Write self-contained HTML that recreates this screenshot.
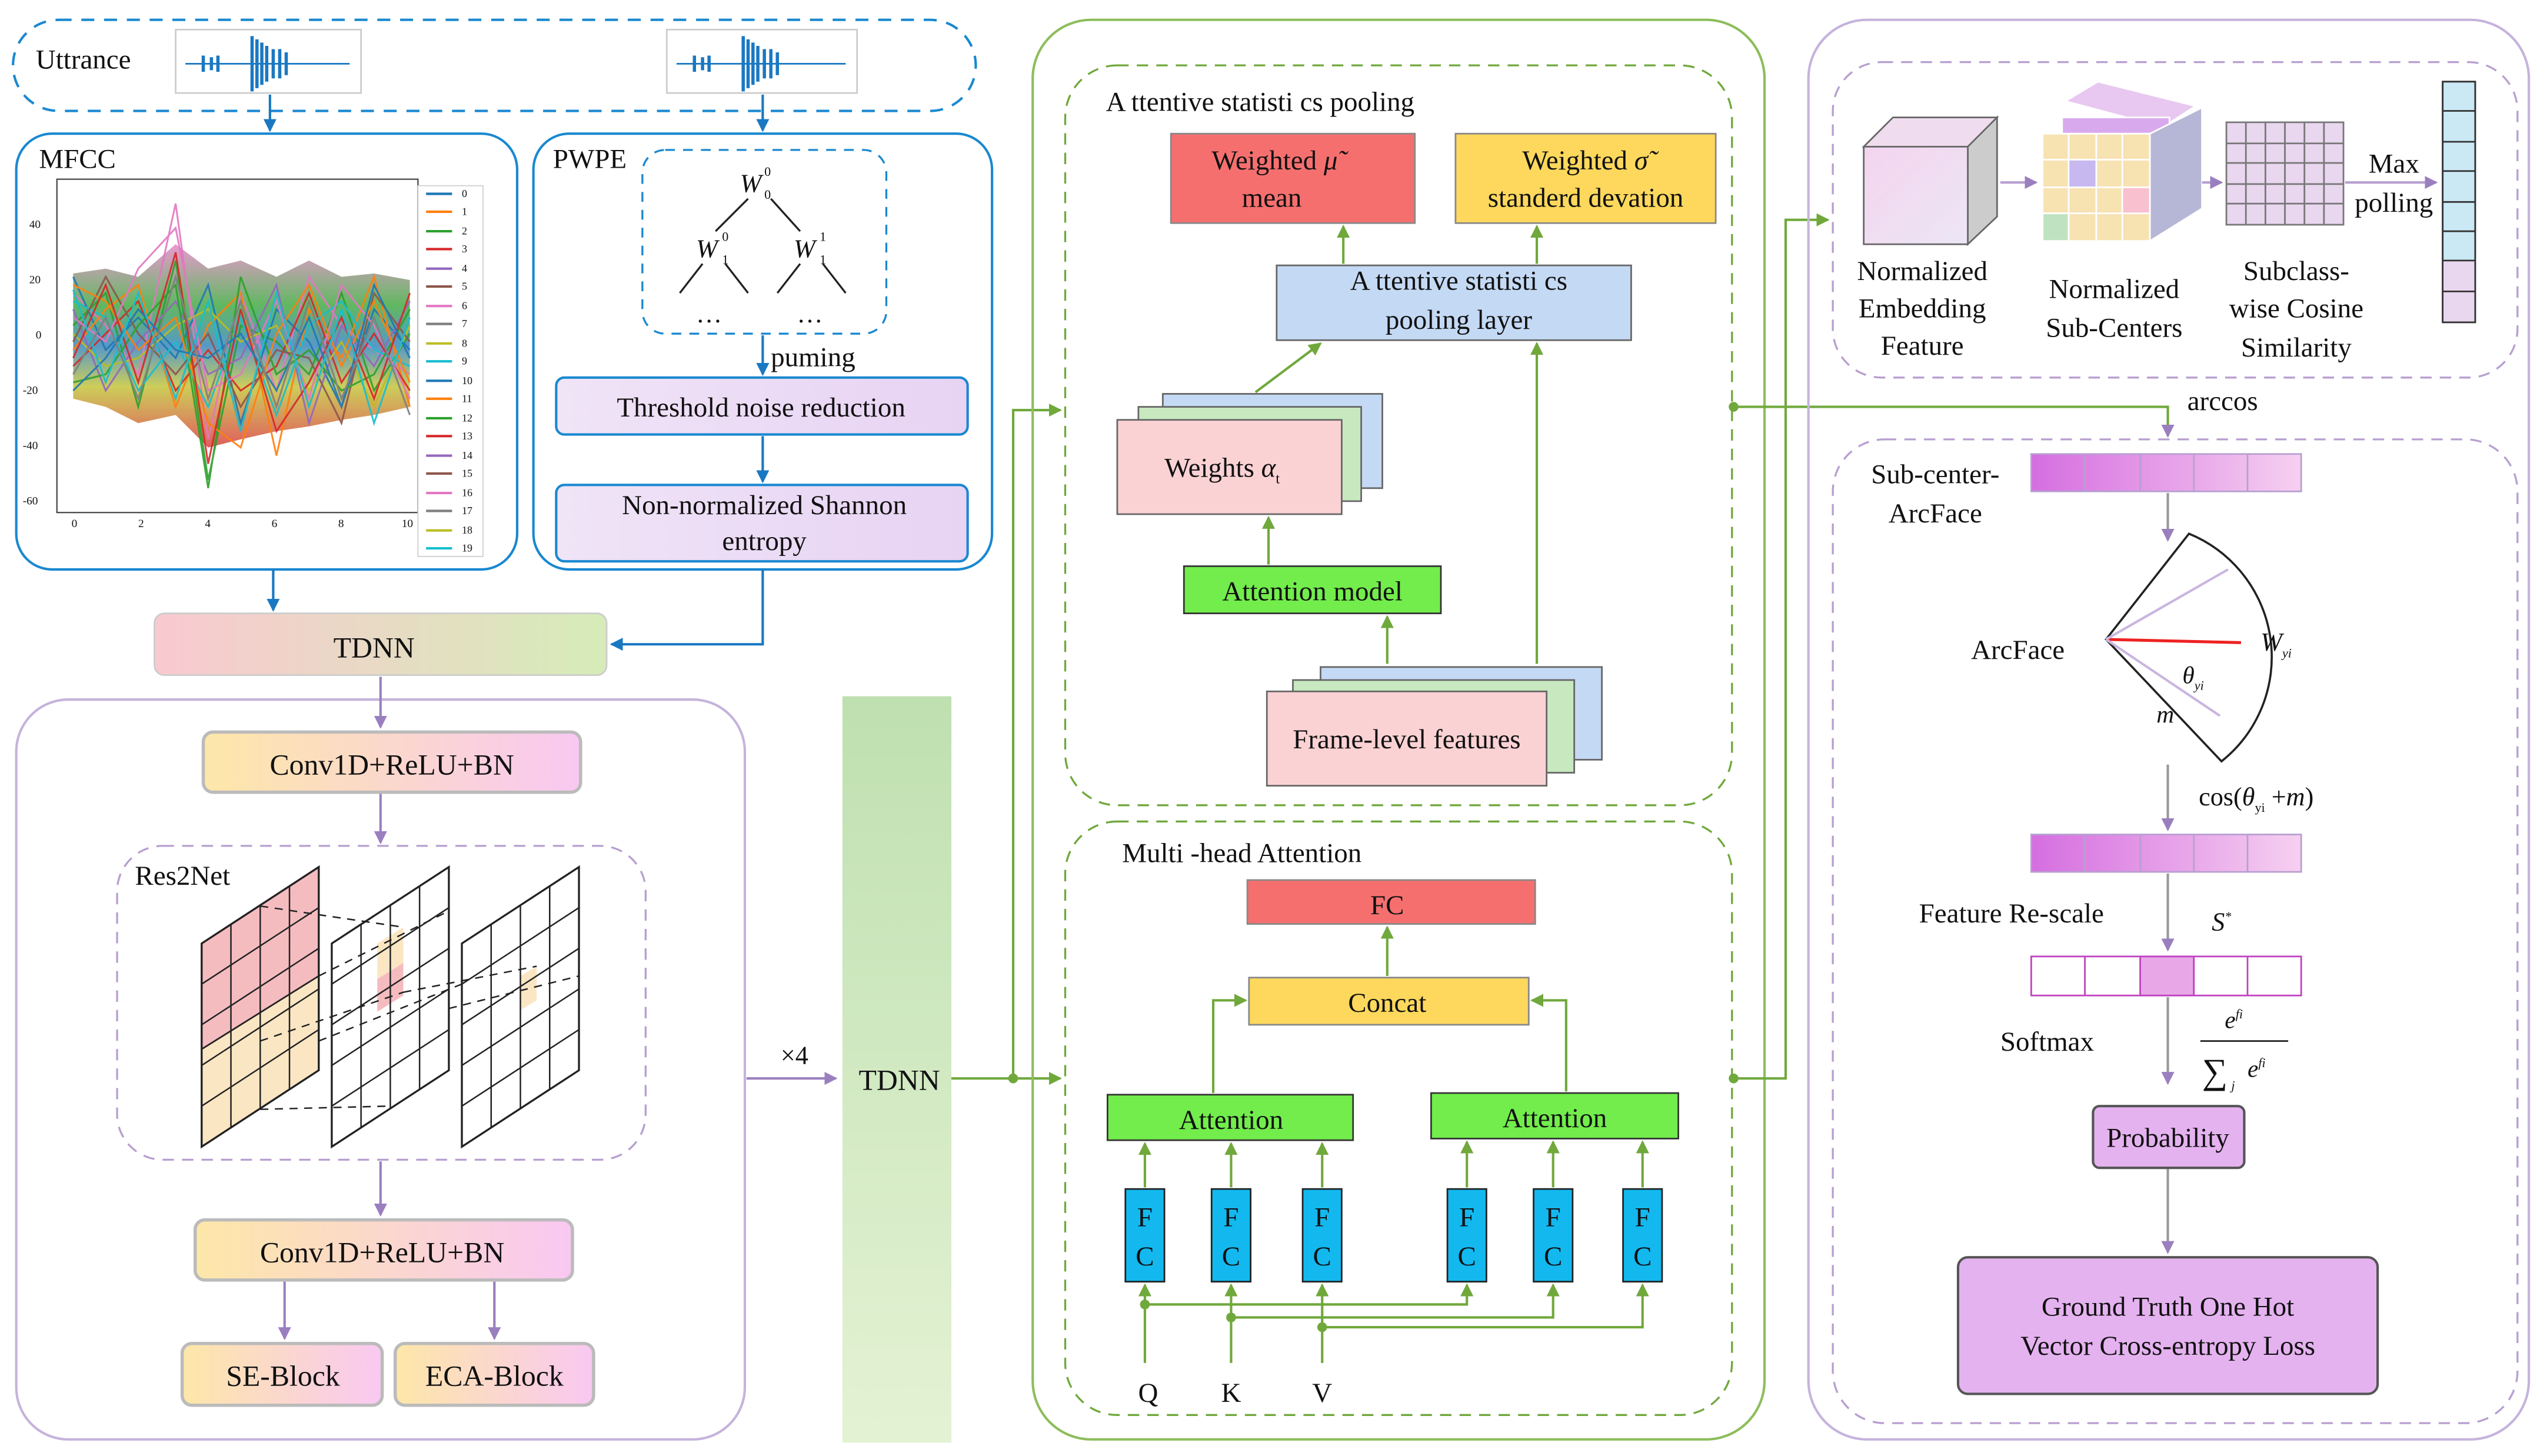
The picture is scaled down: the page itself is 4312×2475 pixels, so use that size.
<!DOCTYPE html>
<html><head><meta charset="utf-8"><style>
html,body{margin:0;padding:0;background:#fff}
svg{display:block}
text{font-family:"Liberation Serif",serif;fill:#111}
</style></head><body>
<svg width="4312" height="2475" viewBox="0 0 1560 895" xmlns="http://www.w3.org/2000/svg">
<defs>
<linearGradient id="gYP" x1="0" x2="1"><stop offset="0" stop-color="#fde7a8"/><stop offset="1" stop-color="#f9c8f2"/></linearGradient>
<linearGradient id="gTD" x1="0" x2="1"><stop offset="0" stop-color="#f9c9d0"/><stop offset="1" stop-color="#d6ecb8"/></linearGradient>
<linearGradient id="gLav" x1="0" x2="1"><stop offset="0" stop-color="#f0e4f7"/><stop offset="1" stop-color="#e7d3f3"/></linearGradient>
<linearGradient id="gBar" x1="0" x2="0" y1="0" y2="1"><stop offset="0" stop-color="#bfe0b0"/><stop offset="1" stop-color="#e4f2d4"/></linearGradient>
<linearGradient id="gArr" x1="0" x2="1"><stop offset="0" stop-color="#d56ee0"/><stop offset="1" stop-color="#f6d0f0"/></linearGradient>
<linearGradient id="gCube" x1="0" x2="1" y1="0" y2="1"><stop offset="0" stop-color="#f4d4ee"/><stop offset="1" stop-color="#ece6f6"/></linearGradient>
<linearGradient id="gBand" x1="0" x2="0" y1="0" y2="1"><stop offset="0" stop-color="#e377c2"/><stop offset="0.3" stop-color="#2ca02c"/><stop offset="0.5" stop-color="#1f77b4"/><stop offset="0.7" stop-color="#bcbd22"/><stop offset="1" stop-color="#d62728"/></linearGradient>
<marker id="ab" markerWidth="8" markerHeight="8" refX="7" refY="4" orient="auto" markerUnits="userSpaceOnUse"><path d="M0,0 L8,4 L0,8z" fill="#1a78c2"/></marker>
<marker id="ag" markerWidth="8" markerHeight="8" refX="7" refY="4" orient="auto" markerUnits="userSpaceOnUse"><path d="M0,0 L8,4 L0,8z" fill="#70a83c"/></marker>
<marker id="ap" markerWidth="8" markerHeight="8" refX="7" refY="4" orient="auto" markerUnits="userSpaceOnUse"><path d="M0,0 L8,4 L0,8z" fill="#9a7fbf"/></marker>
</defs>

<!-- Utterance -->
<rect x="8" y="12" width="592" height="56" rx="28" fill="none" stroke="#1a88d0" stroke-width="1.5" stroke-dasharray="8,6"/>
<text x="22" y="42" font-size="17">Uttrance</text>
<rect x="108" y="18" width="114" height="39" fill="#fff" stroke="#ccc"/>
<rect x="410" y="18" width="117" height="39" fill="#fff" stroke="#ccc"/>
<g stroke="#1a78c2" stroke-width="2">
<line x1="114" y1="39" x2="215" y2="39" stroke-width="1"/><line x1="416" y1="39" x2="520" y2="39" stroke-width="1"/>
<path d="M125,34v10M130,35v8M134,34v10M155,22v34M158,24v30M161,26v26M164,28v22M168,30v18M172,30v18M176,32v14"/>
<path d="M427,34v10M432,35v8M436,34v10M457,22v34M460,24v30M463,26v26M466,28v22M470,30v18M474,30v18M478,32v14"/>
</g>
<line x1="166" y1="58" x2="166" y2="80" stroke="#1a78c2" stroke-width="1.5" marker-end="url(#ab)"/>
<line x1="469" y1="58" x2="469" y2="80" stroke="#1a78c2" stroke-width="1.5" marker-end="url(#ab)"/>

<!-- MFCC -->
<rect x="10" y="82" width="308" height="268" rx="22" fill="#fff" stroke="#1a88d0" stroke-width="1.5"/>
<text x="24" y="103" font-size="17">MFCC</text>
<rect x="35" y="110" width="222" height="205" fill="#fff" stroke="#444" stroke-width="0.8"/>
<g font-size="7" font-family="Liberation Sans">
<text x="18" y="140">40</text><text x="18" y="174">20</text><text x="22" y="208">0</text><text x="14" y="242">-20</text><text x="14" y="276">-40</text><text x="14" y="310">-60</text>
<text x="44" y="324">0</text><text x="85" y="324">2</text><text x="126" y="324">4</text><text x="167" y="324">6</text><text x="208" y="324">8</text><text x="247" y="324">10</text>
</g>
<path d="M45,168 L65,165 L85,170 L108,150 L128,165 L148,160 L170,170 L190,160 L210,170 L230,168 L252,172 L252,250 L230,255 L210,258 L190,262 L170,265 L148,270 L128,275 L108,255 L85,260 L65,250 L45,245z" fill="url(#gBand)" opacity="0.75"/>
<g fill="none" stroke-width="1.1" opacity="0.9">
<path d="M45,180 L65,200 L85,230 L108,125 L128,270 L148,180 L170,240 L190,170 L210,200 L230,215 L252,230" stroke="#e377c2"/>
<path d="M45,200 L65,180 L85,250 L108,160 L128,295 L148,200 L170,210 L190,230 L210,180 L230,240 L252,205" stroke="#2ca02c"/>
<path d="M45,170 L65,215 L85,195 L108,220 L128,175 L148,260 L170,190 L190,210 L210,250 L230,190 L252,215" stroke="#1f77b4"/>
<path d="M45,215 L65,190 L85,175 L108,250 L128,200 L148,180 L170,280 L190,190 L210,220 L230,170 L252,250" stroke="#ff7f0e"/>
<path d="M45,190 L65,240 L85,210 L108,185 L128,230 L148,220 L170,175 L190,260 L210,200 L230,225 L252,185" stroke="#9467bd"/>
<path d="M45,225 L65,205 L85,185 L108,240 L128,215 L148,240 L170,225 L190,180 L210,235 L230,205 L252,240" stroke="#d62728"/>
<path d="M45,205 L65,225 L85,220 L108,200 L128,190 L148,210 L170,200 L190,240 L210,210 L230,250 L252,200" stroke="#bcbd22"/>
<path d="M45,185 L65,195 L85,240 L108,210 L128,250 L148,195 L170,255 L190,200 L210,185 L230,215 L252,225" stroke="#17becf"/>
<path d="M45,210 L65,170 L85,205 L108,230 L128,205 L148,250 L170,215 L190,220 L210,260 L230,180 L252,210" stroke="#8c564b"/>
<path d="M45,195 L65,210 L85,165 L108,140 L128,240 L148,230 L170,185 L190,245 L210,175 L230,200 L252,245" stroke="#e377c2"/>
<path d="M45,235 L65,230 L85,200 L108,175 L128,300 L148,170 L170,230 L190,215 L210,240 L230,230 L252,190" stroke="#2ca02c"/>
<path d="M45,175 L65,185 L85,215 L108,195 L128,260 L148,275 L170,205 L190,175 L210,225 L230,185 L252,235" stroke="#ff7f0e"/>
<path d="M45,220 L65,175 L85,235 L108,155 L128,285 L148,190 L170,265 L190,235 L210,195 L230,245 L252,180" stroke="#d62728"/>
<path d="M45,240 L65,220 L85,190 L108,215 L128,220 L148,205 L170,240 L190,195 L210,250 L230,175 L252,220" stroke="#1f77b4"/>
<path d="M45,178 L65,235 L85,180 L108,245 L128,185 L148,265 L170,180 L190,250 L210,190 L230,260 L252,195" stroke="#17becf"/>
<path d="M45,230 L65,195 L85,245 L108,170 L128,245 L148,185 L170,250 L190,185 L210,245 L230,195 L252,255" stroke="#7f7f7f"/>
</g>
<rect x="257" y="114" width="40" height="228" fill="#fff" stroke="#ccc" stroke-width="0.6"/>
<g font-size="6.5" font-family="Liberation Sans">
<text x="284" y="121">0</text><text x="284" y="132">1</text><text x="284" y="144">2</text><text x="284" y="155">3</text><text x="284" y="167">4</text><text x="284" y="178">5</text><text x="284" y="190">6</text><text x="284" y="201">7</text><text x="284" y="213">8</text><text x="284" y="224">9</text><text x="284" y="236">10</text><text x="284" y="247">11</text><text x="284" y="259">12</text><text x="284" y="270">13</text><text x="284" y="282">14</text><text x="284" y="293">15</text><text x="284" y="305">16</text><text x="284" y="316">17</text><text x="284" y="328">18</text><text x="284" y="339">19</text>
</g>
<g stroke-width="1.5">
<line x1="262" x2="278" y1="119" y2="119" stroke="#1f77b4"/><line x1="262" x2="278" y1="130" y2="130" stroke="#ff7f0e"/><line x1="262" x2="278" y1="142" y2="142" stroke="#2ca02c"/><line x1="262" x2="278" y1="153" y2="153" stroke="#d62728"/><line x1="262" x2="278" y1="165" y2="165" stroke="#9467bd"/><line x1="262" x2="278" y1="176" y2="176" stroke="#8c564b"/><line x1="262" x2="278" y1="188" y2="188" stroke="#e377c2"/><line x1="262" x2="278" y1="199" y2="199" stroke="#7f7f7f"/><line x1="262" x2="278" y1="211" y2="211" stroke="#bcbd22"/><line x1="262" x2="278" y1="222" y2="222" stroke="#17becf"/><line x1="262" x2="278" y1="234" y2="234" stroke="#1f77b4"/><line x1="262" x2="278" y1="245" y2="245" stroke="#ff7f0e"/><line x1="262" x2="278" y1="257" y2="257" stroke="#2ca02c"/><line x1="262" x2="278" y1="268" y2="268" stroke="#d62728"/><line x1="262" x2="278" y1="280" y2="280" stroke="#9467bd"/><line x1="262" x2="278" y1="291" y2="291" stroke="#8c564b"/><line x1="262" x2="278" y1="303" y2="303" stroke="#e377c2"/><line x1="262" x2="278" y1="314" y2="314" stroke="#7f7f7f"/><line x1="262" x2="278" y1="326" y2="326" stroke="#bcbd22"/><line x1="262" x2="278" y1="337" y2="337" stroke="#17becf"/>
</g>

<!-- PWPE -->
<rect x="328" y="82" width="282" height="268" rx="22" fill="#fff" stroke="#1a88d0" stroke-width="1.5"/>
<text x="340" y="103" font-size="17">PWPE</text>
<rect x="395" y="92" width="150" height="113" rx="14" fill="none" stroke="#1a88d0" stroke-width="1.2" stroke-dasharray="6,5"/>
<text x="455" y="118" font-size="16" font-style="italic">W</text><text x="470" y="108" font-size="8">0</text><text x="470" y="122" font-size="8">0</text>
<text x="428" y="158" font-size="16" font-style="italic">W</text><text x="444" y="148" font-size="8">0</text><text x="444" y="162" font-size="8">1</text>
<text x="488" y="158" font-size="16" font-style="italic">W</text><text x="504" y="148" font-size="8">1</text><text x="504" y="162" font-size="8">1</text>
<g stroke="#222" stroke-width="1.2" fill="none">
<path d="M460,122 L440,142 M474,122 L492,142 M432,162 L418,180 M446,162 L460,180 M492,162 L478,180 M506,162 L520,180"/>
</g>
<text x="428" y="198" font-size="16">…</text><text x="490" y="198" font-size="16">…</text>
<line x1="469" y1="206" x2="469" y2="230" stroke="#1a78c2" stroke-width="1.5" marker-end="url(#ab)"/>
<text x="474" y="225" font-size="17">puming</text>
<rect x="342" y="232" width="253" height="35" rx="5" fill="url(#gLav)" stroke="#1a88d0" stroke-width="1.5"/>
<text x="468" y="256" font-size="17" text-anchor="middle">Threshold noise reduction</text>
<line x1="469" y1="268" x2="469" y2="296" stroke="#1a78c2" stroke-width="1.5" marker-end="url(#ab)"/>
<rect x="342" y="298" width="253" height="47" rx="5" fill="url(#gLav)" stroke="#1a88d0" stroke-width="1.5"/>
<text x="470" y="316" font-size="17" text-anchor="middle">Non-normalized Shannon</text>
<text x="470" y="338" font-size="17" text-anchor="middle">entropy</text>

<!-- TDNN top -->
<line x1="168" y1="350" x2="168" y2="375" stroke="#1a78c2" stroke-width="1.5" marker-end="url(#ab)"/>
<path d="M469,350 V396 H376" fill="none" stroke="#1a78c2" stroke-width="1.5" marker-end="url(#ab)"/>
<rect x="95" y="377" width="278" height="38" rx="6" fill="url(#gTD)" stroke="#ccc"/>
<text x="230" y="404" font-size="18" text-anchor="middle">TDNN</text>

<!-- Left lower -->
<rect x="10" y="430" width="448" height="455" rx="32" fill="none" stroke="#c5b3dc" stroke-width="1.5"/>
<line x1="234" y1="416" x2="234" y2="447" stroke="#9a7fbf" stroke-width="1.5" marker-end="url(#ap)"/>
<rect x="125" y="450" width="232" height="37" rx="6" fill="url(#gYP)" stroke="#bbb" stroke-width="2"/>
<text x="241" y="476" font-size="18" text-anchor="middle">Conv1D+ReLU+BN</text>
<line x1="234" y1="488" x2="234" y2="518" stroke="#9a7fbf" stroke-width="1.5" marker-end="url(#ap)"/>
<rect x="72" y="520" width="325" height="193" rx="28" fill="none" stroke="#b79fd0" stroke-width="1.2" stroke-dasharray="7,5"/>
<text x="83" y="544" font-size="17">Res2Net</text>
<g stroke="#222" stroke-width="1">
<path d="M124,580 L196,533 L196,658 L124,705z" fill="#fbe6c4"/>
<path d="M124,580 L196,533 L196,600 L124,645z" fill="#f5bcc0"/>
<path d="M204,580 L276,533 L276,658 L204,705z" fill="#fff"/>
<path d="M284,580 L356,533 L356,658 L284,705z" fill="#fff"/>
<path d="M232,580 L248,570 L248,610 L232,620z" fill="#fbe6c4" stroke="none"/>
<path d="M232,602 L248,592 L248,612 L232,622z" fill="#f5bcc0" stroke="none"/>
<path d="M320,600 L330,594 L330,615 L320,621z" fill="#fbe6c4" stroke="none"/>
</g>
<g stroke="#222" stroke-width="0.9" fill="none">
<path d="M142,568V693 M160,557V682 M178,545V670 M124,605L196,558 M124,630L196,583 M124,655L196,608 M124,680L196,633"/>
<path d="M222,568V693 M240,557V682 M258,545V670 M204,605L276,558 M204,630L276,583 M204,655L276,608 M204,680L276,633"/>
<path d="M302,568V693 M320,557V682 M338,545V670 M284,605L356,558 M284,630L356,583 M284,655L356,608 M284,680L356,633"/>
<path d="M124,580 L196,533 L196,658 L124,705z M204,580 L276,533 L276,658 L204,705z M284,580 L356,533 L356,658 L284,705z" stroke-width="1.2"/>
</g>
<g stroke="#222" stroke-width="0.9" stroke-dasharray="5,4" fill="none">
<path d="M160,557 L248,570 M196,600 L276,560 M160,640 L248,610 M196,640 L284,605 M248,610 L330,594 M276,620 L356,600 M160,682 L240,680"/>
</g>
<line x1="234" y1="714" x2="234" y2="747" stroke="#9a7fbf" stroke-width="1.5" marker-end="url(#ap)"/>
<rect x="120" y="750" width="232" height="37" rx="6" fill="url(#gYP)" stroke="#bbb" stroke-width="2"/>
<text x="235" y="776" font-size="18" text-anchor="middle">Conv1D+ReLU+BN</text>
<line x1="175" y1="788" x2="175" y2="823" stroke="#9a7fbf" stroke-width="1.5" marker-end="url(#ap)"/>
<line x1="304" y1="788" x2="304" y2="823" stroke="#9a7fbf" stroke-width="1.5" marker-end="url(#ap)"/>
<rect x="112" y="826" width="123" height="38" rx="6" fill="url(#gYP)" stroke="#bbb" stroke-width="2"/>
<text x="174" y="852" font-size="18" text-anchor="middle">SE-Block</text>
<rect x="243" y="826" width="122" height="38" rx="6" fill="url(#gYP)" stroke="#bbb" stroke-width="2"/>
<text x="304" y="852" font-size="18" text-anchor="middle">ECA-Block</text>

<!-- x4 and vertical TDNN -->
<line x1="459" y1="663" x2="514" y2="663" stroke="#9a7fbf" stroke-width="1.5" marker-end="url(#ap)"/>
<text x="480" y="654" font-size="16">×4</text>
<rect x="518" y="428" width="67" height="459" fill="url(#gBar)"/>
<text x="553" y="670" font-size="18" text-anchor="middle">TDNN</text>

<g stroke="#70a83c" stroke-width="1.5" fill="none">
<line x1="585" y1="663" x2="623" y2="663"/>
<path d="M623,663 V252 H652" marker-end="url(#ag)"/>
<line x1="623" y1="663" x2="652" y2="663" marker-end="url(#ag)"/>
</g>
<circle cx="623" cy="663" r="3" fill="#70a83c"/>

<!-- Middle big -->
<rect x="635" y="12" width="450" height="873" rx="36" fill="none" stroke="#8dbd5c" stroke-width="1.5"/>
<rect x="655" y="40" width="410" height="455" rx="32" fill="none" stroke="#70a83c" stroke-width="1.2" stroke-dasharray="7,5"/>
<text x="680" y="68" font-size="17">A ttentive statisti cs pooling</text>
<rect x="720" y="82" width="150" height="55" fill="#f66f6f" stroke="#888"/>
<text x="745" y="104" font-size="17">Weighted <tspan font-style="italic">μ̃</tspan></text>
<text x="782" y="127" font-size="17" text-anchor="middle">mean</text>
<rect x="895" y="82" width="160" height="55" fill="#fdd85c" stroke="#888"/>
<text x="936" y="104" font-size="17">Weighted <tspan font-style="italic">σ̃</tspan></text>
<text x="975" y="127" font-size="17" text-anchor="middle">standerd devation</text>
<rect x="785" y="163" width="218" height="46" fill="#c4d9f4" stroke="#666"/>
<text x="897" y="178" font-size="17" text-anchor="middle">A ttentive statisti cs</text>
<text x="897" y="202" font-size="17" text-anchor="middle">pooling layer</text>
<g stroke="#70a83c" stroke-width="1.5" fill="none">
<line x1="826" y1="162" x2="826" y2="139" marker-end="url(#ag)"/>
<line x1="945" y1="162" x2="945" y2="139" marker-end="url(#ag)"/>
<line x1="772" y1="241" x2="812" y2="211" marker-end="url(#ag)"/>
<line x1="945" y1="408" x2="945" y2="211" marker-end="url(#ag)"/>
<line x1="780" y1="347" x2="780" y2="318" marker-end="url(#ag)"/>
<line x1="853" y1="408" x2="853" y2="379" marker-end="url(#ag)"/>
</g>
<rect x="715" y="242" width="135" height="58" fill="#c4d9f4" stroke="#666"/>
<rect x="700" y="250" width="137" height="58" fill="#c8e8c0" stroke="#666"/>
<rect x="687" y="258" width="138" height="58" fill="#fbd2d4" stroke="#666"/>
<text x="716" y="293" font-size="17">Weights <tspan font-style="italic">α</tspan><tspan font-size="9" dy="4">t</tspan></text>
<rect x="728" y="348" width="158" height="29" fill="#72ed4c" stroke="#333"/>
<text x="807" y="369" font-size="17" text-anchor="middle">Attention model</text>
<rect x="812" y="410" width="173" height="57" fill="#c4d9f4" stroke="#666"/>
<rect x="795" y="418" width="173" height="57" fill="#c8e8c0" stroke="#666"/>
<rect x="779" y="425" width="172" height="58" fill="#fbd2d4" stroke="#666"/>
<text x="865" y="460" font-size="17" text-anchor="middle">Frame-level features</text>

<!-- multi-head -->
<rect x="655" y="505" width="410" height="365" rx="32" fill="none" stroke="#70a83c" stroke-width="1.2" stroke-dasharray="7,5"/>
<text x="690" y="530" font-size="17">Multi -head Attention</text>
<rect x="767" y="541" width="177" height="27" fill="#f66f6f" stroke="#888"/>
<text x="853" y="562" font-size="17" text-anchor="middle">FC</text>
<rect x="768" y="601" width="172" height="29" fill="#fdd85c" stroke="#888"/>
<text x="853" y="622" font-size="17" text-anchor="middle">Concat</text>
<g stroke="#70a83c" stroke-width="1.5" fill="none">
<line x1="853" y1="600" x2="853" y2="570" marker-end="url(#ag)"/>
<path d="M746,672 V615 H766" marker-end="url(#ag)"/>
<path d="M963,671 V615 H942" marker-end="url(#ag)"/>
</g>
<rect x="681" y="673" width="151" height="28" fill="#72ed4c" stroke="#333"/>
<text x="757" y="694" font-size="17" text-anchor="middle">Attention</text>
<rect x="880" y="672" width="152" height="28" fill="#72ed4c" stroke="#333"/>
<text x="956" y="693" font-size="17" text-anchor="middle">Attention</text>
<g stroke="#70a83c" stroke-width="1.5" fill="none">
<line x1="704" y1="730" x2="704" y2="703" marker-end="url(#ag)"/>
<line x1="757" y1="730" x2="757" y2="703" marker-end="url(#ag)"/>
<line x1="813" y1="730" x2="813" y2="703" marker-end="url(#ag)"/>
<line x1="902" y1="730" x2="902" y2="702" marker-end="url(#ag)"/>
<line x1="955" y1="730" x2="955" y2="702" marker-end="url(#ag)"/>
<line x1="1010" y1="730" x2="1010" y2="702" marker-end="url(#ag)"/>
<line x1="704" y1="838" x2="704" y2="790" marker-end="url(#ag)"/>
<line x1="757" y1="838" x2="757" y2="790" marker-end="url(#ag)"/>
<line x1="813" y1="838" x2="813" y2="790" marker-end="url(#ag)"/>
<path d="M704,802 H902 V790" marker-end="url(#ag)"/>
<path d="M757,810 H955 V790" marker-end="url(#ag)"/>
<path d="M813,816 H1010 V790" marker-end="url(#ag)"/>
</g>
<g fill="#70a83c"><circle cx="704" cy="802" r="3"/><circle cx="757" cy="810" r="3"/><circle cx="813" cy="816" r="3"/></g>
<g fill="#13b8ef" stroke="#222" stroke-width="1">
<rect x="692" y="731" width="24" height="57"/><rect x="745" y="731" width="24" height="57"/><rect x="801" y="731" width="24" height="57"/>
<rect x="890" y="731" width="24" height="57"/><rect x="943" y="731" width="24" height="57"/><rect x="998" y="731" width="24" height="57"/>
</g>
<g font-size="17" text-anchor="middle">
<text x="704" y="754">F</text><text x="704" y="778">C</text><text x="757" y="754">F</text><text x="757" y="778">C</text><text x="813" y="754">F</text><text x="813" y="778">C</text>
<text x="902" y="754">F</text><text x="902" y="778">C</text><text x="955" y="754">F</text><text x="955" y="778">C</text><text x="1010" y="754">F</text><text x="1010" y="778">C</text>
<text x="706" y="862">Q</text><text x="757" y="862">K</text><text x="813" y="862">V</text>
</g>

<g stroke="#70a83c" stroke-width="1.5" fill="none">
<path d="M1066,663 H1098 V135 H1124" marker-end="url(#ag)"/>
<path d="M1066,250 H1333 V268" marker-end="url(#ap)"/>
</g>
<circle cx="1066" cy="663" r="3" fill="#70a83c"/><circle cx="1066" cy="250" r="3" fill="#70a83c"/>

<!-- Right big -->
<rect x="1112" y="12" width="443" height="873" rx="36" fill="none" stroke="#c5b3dc" stroke-width="1.5"/>
<rect x="1127" y="38" width="421" height="194" rx="30" fill="none" stroke="#b79fd0" stroke-width="1.2" stroke-dasharray="7,5"/>
<path d="M1146,90 L1164,72 L1228,72 L1210,90z" fill="#f0dcef" stroke="#666"/>
<path d="M1210,90 L1228,72 L1228,133 L1210,150z" fill="#ccc" stroke="#666"/>
<rect x="1146" y="90" width="64" height="60" fill="url(#gCube)" stroke="#666"/>
<text x="1182" y="172" font-size="17" text-anchor="middle">Normalized</text>
<text x="1182" y="195" font-size="17" text-anchor="middle">Embedding</text>
<text x="1182" y="218" font-size="17" text-anchor="middle">Feature</text>
<line x1="1230" y1="112" x2="1252" y2="112" stroke="#b79fd0" stroke-width="1.5" marker-end="url(#ap)"/>
<g stroke="#fff" stroke-width="1">
<path d="M1270,62 L1290,50 L1350,65 L1330,78z" fill="#e8c8f0"/>
<rect x="1268" y="72" width="66" height="66" fill="#d9a9ee"/>
<rect x="1256" y="82" width="66" height="66" fill="#f7e2b2"/>
<path d="M1256,82h66 M1256,98h66 M1256,115h66 M1256,131h66 M1272,82v66 M1289,82v66 M1305,82v66" stroke="#fff"/>
<rect x="1272" y="98" width="17" height="17" fill="#c7b8f0"/><rect x="1305" y="115" width="17" height="16" fill="#f9c0cf"/><rect x="1256" y="131" width="16" height="17" fill="#bfe3c0"/>
<path d="M1322,82 L1354,66 L1354,128 L1322,148z" fill="#b6b6d6"/>
</g>
<text x="1300" y="183" font-size="17" text-anchor="middle">Normalized</text>
<text x="1300" y="207" font-size="17" text-anchor="middle">Sub-Centers</text>
<line x1="1354" y1="112" x2="1366" y2="112" stroke="#b79fd0" stroke-width="1.5" marker-end="url(#ap)"/>
<rect x="1369" y="75" width="72" height="63" fill="#e9d6ef" stroke="#777"/>
<path d="M1369,88h72 M1369,100h72 M1369,113h72 M1369,125h72 M1381,75v63 M1393,75v63 M1405,75v63 M1417,75v63 M1429,75v63" stroke="#777" fill="none"/>
<text x="1412" y="172" font-size="17" text-anchor="middle">Subclass-</text>
<text x="1412" y="195" font-size="17" text-anchor="middle">wise Cosine</text>
<text x="1412" y="219" font-size="17" text-anchor="middle">Similarity</text>
<line x1="1442" y1="112" x2="1498" y2="112" stroke="#b79fd0" stroke-width="1.5" marker-end="url(#ap)"/>
<text x="1472" y="106" font-size="17" text-anchor="middle">Max</text>
<text x="1472" y="130" font-size="17" text-anchor="middle">polling</text>
<rect x="1502" y="50" width="20" height="148" fill="#cbe9f5" stroke="#333"/>
<rect x="1502" y="160" width="20" height="38" fill="#e9d6ef" stroke="none"/>
<path d="M1502,68h20 M1502,87h20 M1502,105h20 M1502,124h20 M1502,142h20 M1502,160h20 M1502,179h20" stroke="#333"/>
<rect x="1502" y="50" width="20" height="148" fill="none" stroke="#333"/>
<text x="1345" y="252" font-size="17">arccos</text>

<rect x="1127" y="270" width="421" height="605" rx="32" fill="none" stroke="#b79fd0" stroke-width="1.2" stroke-dasharray="7,5"/>
<text x="1190" y="297" font-size="17" text-anchor="middle">Sub-center-</text>
<text x="1190" y="321" font-size="17" text-anchor="middle">ArcFace</text>
<g stroke="#b79fd0" stroke-width="1">
<rect x="1249" y="279" width="166" height="23" fill="url(#gArr)"/>
<path d="M1282,279v23 M1316,279v23 M1349,279v23 M1382,279v23" />
<rect x="1249" y="513" width="166" height="23" fill="url(#gArr)"/>
<path d="M1282,513v23 M1316,513v23 M1349,513v23 M1382,513v23" />
<rect x="1249" y="588" width="166" height="24" fill="#fff" stroke="#c040c0"/>
<rect x="1316" y="588" width="33" height="24" fill="#e8a8e8" stroke="#c040c0"/>
<path d="M1282,588v24 M1382,588v24" stroke="#c040c0"/>
</g>
<g stroke="#999" stroke-width="1.5" fill="none">
<line x1="1333" y1="303" x2="1333" y2="332" marker-end="url(#ap)"/>
<line x1="1333" y1="470" x2="1333" y2="510" marker-end="url(#ap)"/>
<line x1="1333" y1="537" x2="1333" y2="584" marker-end="url(#ap)"/>
<line x1="1333" y1="613" x2="1333" y2="666" marker-end="url(#ap)"/>
<line x1="1333" y1="718" x2="1333" y2="770" marker-end="url(#ap)"/>
</g>
<path d="M1295,393 L1346,328 A82,82 0 0 1 1366,468 z" fill="#fff" stroke="#222" stroke-width="1.3"/>
<line x1="1295" y1="393" x2="1378" y2="395" stroke="#e22" stroke-width="1.8"/>
<line x1="1295" y1="393" x2="1370" y2="350" stroke="#c9b6df" stroke-width="1.5"/>
<line x1="1295" y1="393" x2="1365" y2="440" stroke="#c9b6df" stroke-width="1.5"/>
<text x="1212" y="405" font-size="17">ArcFace</text>
<text x="1390" y="400" font-size="16" font-style="italic">W<tspan font-size="8" dy="4">yi</tspan></text>
<text x="1342" y="420" font-size="15" font-style="italic">θ<tspan font-size="8" dy="4">yi</tspan></text>
<text x="1326" y="444" font-size="15" font-style="italic">m</text>
<text x="1352" y="495" font-size="16">cos(<tspan font-style="italic">θ</tspan><tspan font-size="8" dy="4">yi</tspan><tspan dy="-4"> +</tspan><tspan font-style="italic">m</tspan>)</text>
<text x="1180" y="567" font-size="17">Feature Re-scale</text>
<text x="1360" y="572" font-size="16" font-style="italic">S<tspan font-size="8" dy="-6">*</tspan></text>
<text x="1230" y="646" font-size="17">Softmax</text>
<text x="1368" y="632" font-size="15" font-style="italic">e<tspan font-size="8" dy="-6">fi</tspan></text>
<line x1="1353" y1="640" x2="1407" y2="640" stroke="#222"/>
<text x="1354" y="666" font-size="22">∑</text><text x="1372" y="670" font-size="8" font-style="italic">j</text>
<text x="1382" y="662" font-size="15" font-style="italic">e<tspan font-size="8" dy="-6">fi</tspan></text>
<rect x="1287" y="680" width="93" height="38" rx="4" fill="#e5b2f0" stroke="#555" stroke-width="1.5"/>
<text x="1333" y="705" font-size="17" text-anchor="middle">Probability</text>
<rect x="1204" y="773" width="258" height="84" rx="6" fill="#e5b2f0" stroke="#555" stroke-width="1.5"/>
<text x="1333" y="809" font-size="17" text-anchor="middle">Ground Truth One Hot</text>
<text x="1333" y="833" font-size="17" text-anchor="middle">Vector Cross-entropy Loss</text>
</svg>
</body></html>
